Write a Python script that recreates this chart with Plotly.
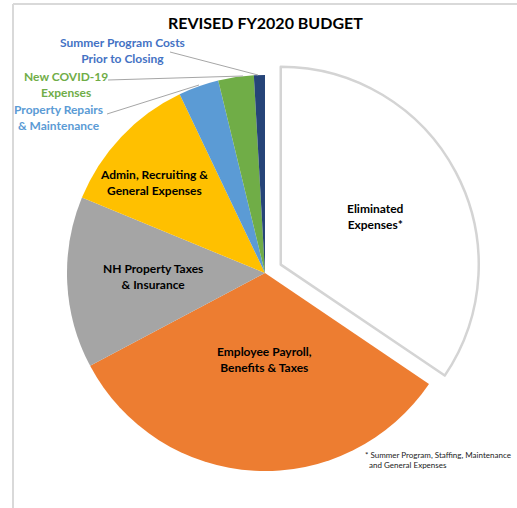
import plotly.graph_objects as go

W, H = 517, 508

categories = [
    "Eliminated Expenses*",
    "Employee Payroll, Benefits & Taxes",
    "NH Property Taxes & Insurance",
    "Admin, Recruiting & General Expenses",
    "Property Repairs & Maintenance",
    "New COVID-19 Expenses",
    "Summer Program Costs Prior to Closing",
]
values = [34.5, 32.8, 14.0, 11.7, 3.3, 2.9, 0.9]
colors = ["#FFFFFF", "#ED7D31", "#A5A5A5", "#FFC000", "#5B9BD5", "#70AD47", "#264478"]
pulls = [0.09, 0, 0, 0, 0, 0, 0]

display_labels = [
    "Eliminated<br>Expenses*",
    "Employee Payroll,<br>Benefits & Taxes",
    "NH Property Taxes<br>& Insurance",
    "Admin, Recruiting &<br>General Expenses",
    "Property Repairs<br>& Maintenance",
    "New COVID-19<br>Expenses",
    "Summer Program Costs<br>Prior to Closing",
]
label_colors = ["#000000"] * 4 + ["#5B9BD5", "#70AD47", "#4472C4"]
footnote = "* Summer Program, Staffing, Maintenance<br>\u00a0\u00a0and General Expenses"
title = "REVISED FY2020 BUDGET"

FONT = "Lato, Carlito, Calibri, sans-serif"


def px(x):
    return x / W


def py(y):
    return 1 - y / H


# pie geometry (pixels): center (265, 273), radius ~198
cx, cy, r = 265, 273, 198
half = r * (1 + max(pulls))

fig = go.Figure(
    go.Pie(
        labels=categories,
        values=values,
        sort=False,
        direction="clockwise",
        rotation=0,
        pull=pulls,
        marker=dict(
            colors=colors,
            line=dict(color=["#D4D4D4"] + ["rgba(0,0,0,0)"] * 6, width=[2.5] + [0] * 6),
        ),
        textinfo="none",
        hoverinfo="label+percent",
        showlegend=False,
        domain=dict(x=[px(cx - half), px(cx + half)], y=[py(cy + half), py(cy - half)]),
    )
)

# label positions in pixels (text centres)
label_pos = [(375, 216), (264, 359), (153, 276), (154, 182), (58, 117), (66, 84), (122, 50)]
annotations = []
for txt, col, (x, y) in zip(display_labels, label_colors, label_pos):
    annotations.append(
        dict(
            x=px(x), y=py(y), xref="paper", yref="paper", text=txt, showarrow=False,
            font=dict(family=FONT, size=12, color=col, weight="bold"),
            xanchor="center", yanchor="middle", align="center",
        )
    )

annotations.append(
    dict(
        x=px(265), y=py(22), xref="paper", yref="paper", text=title, showarrow=False,
        font=dict(family=FONT, size=16, color="#000000", weight="bold"),
        xanchor="center", yanchor="middle",
    )
)
annotations.append(
    dict(
        x=px(363), y=py(460), xref="paper", yref="paper", text=footnote, showarrow=False,
        font=dict(family=FONT, size=8, color="#222222"),
        xanchor="left", yanchor="middle", align="left",
    )
)

# leader lines (pixels)
leaders = [((170, 52), (258, 75)), ((108, 80), (243, 76)), ((107, 114), (199, 85))]
shapes = []
for (x0, y0), (x1, y1) in leaders:
    shapes.append(
        dict(type="line", xref="paper", yref="paper", x0=px(x0), y0=py(y0), x1=px(x1), y1=py(y1),
             line=dict(color="#A6A6A6", width=1))
    )
# chart border
shapes.append(dict(type="line", xref="paper", yref="paper", x0=px(13), y0=py(4), x1=1.02, y1=py(4),
                   line=dict(color="#D9D9D9", width=2)))
shapes.append(dict(type="line", xref="paper", yref="paper", x0=px(13), y0=py(4), x1=px(13), y1=-0.02,
                   line=dict(color="#D9D9D9", width=2)))

fig.update_layout(
    width=W, height=H,
    margin=dict(l=0, r=0, t=0, b=0),
    paper_bgcolor="white",
    plot_bgcolor="white",
    annotations=annotations,
    shapes=shapes,
)

fig.write_html(
    "out.html",
    config={"displayModeBar": False},
    post_script="document.body.style.margin='0';document.body.style.overflow='hidden';",
)
